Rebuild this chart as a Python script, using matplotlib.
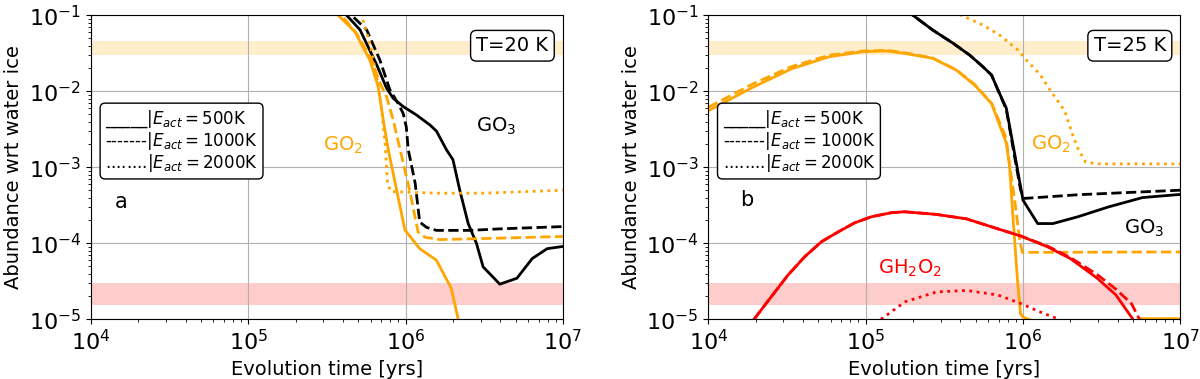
import matplotlib
matplotlib.use("Agg")
import matplotlib.pyplot as plt

# ---- panel a, T=20 K ----
a_go3_500_t = [3.8e5, 4.22e5, 5.13e5, 6.55e5, 7.57e5, 8.34e5, 9.66e5, 1.17e6, 1.43e6, 1.57e6, 1.82e6,
               2.0e6, 2.21e6, 2.5e6, 2.82e6, 3.11e6, 3.97e6, 5.1e6, 6.38e6, 7.94e6, 1e7]
a_go3_500 = [0.126, 0.1, 6.46e-2, 2.24e-2, 1.10e-2, 8.1e-3, 6.3e-3, 4.9e-3, 3.6e-3, 3.0e-3, 1.7e-3,
             1.26e-3, 5.0e-4, 1.82e-4, 1.0e-4, 4.9e-5, 2.9e-5, 3.47e-5, 6.3e-5, 8.5e-5, 9.1e-5]

a_go3_1000_t = [3.98e5, 4.54e5, 5.65e5, 6.87e5, 7.94e5, 8.97e5, 9.66e5, 1.01e6, 1.04e6, 1.15e6, 1.23e6,
                1.36e6, 1.57e6, 2.57e6, 3.98e6, 1e7]
a_go3_1000 = [0.126, 0.1, 6.46e-2, 2.57e-2, 1.05e-2, 6.9e-3, 5.1e-3, 3.4e-3, 1.7e-3, 6.2e-4, 1.9e-4,
              1.62e-4, 1.48e-4, 1.48e-4, 1.55e-4, 1.66e-4]

a_go2_500_t = [3.31e5, 3.73e5, 4.76e5, 5.93e5, 6.7e5, 7.21e5, 7.76e5, 9.9e5, 1.23e6, 1.57e6, 1.95e6, 2.16e6, 2.3e6]
a_go2_500 = [0.126, 0.1, 6.1e-2, 2.57e-2, 1.15e-2, 4.2e-3, 1.7e-3, 1.5e-4, 8.5e-5, 6.0e-5, 2.57e-5, 1.0e-5, 5e-6]

a_go2_1000_t = [3.47e5, 3.92e5, 4.89e5, 6.08e5, 6.87e5, 7.57e5, 8.34e5, 9.12e5, 1.06e6, 1.2e6, 1.33e6,
                1.65e6, 3.98e6, 1e7]
a_go2_1000 = [0.126, 0.1, 5.75e-2, 2.57e-2, 1.29e-2, 8.5e-3, 4.2e-3, 1.9e-3, 5.0e-4, 1.41e-4, 1.2e-4,
              1.12e-4, 1.17e-4, 1.23e-4]

a_go2_2000_t = [4.79e5, 5.25e5, 5.93e5, 6.55e5, 7.05e5, 7.4e5, 7.67e5, 8.04e5, 1.58e6, 3.16e6, 1e7]
a_go2_2000 = [0.126, 0.1, 4.27e-2, 1.55e-2, 5.6e-3, 2.1e-3, 6.3e-4, 4.8e-4, 4.57e-4, 4.57e-4, 5.0e-4]

# ---- panel b, T=25 K ----
b_go3_500_t = [1.78e5, 2.0e5, 2.67e5, 3.59e5, 4.58e5, 5.57e5, 6.31e5, 6.92e5, 7.83e5, 8.85e5, 1.0e6,
               1.24e6, 1.55e6, 2.24e6, 3.47e6, 5.75e6, 1e7]
b_go3_500 = [0.117, 0.1, 6.4e-2, 4.3e-2, 3.0e-2, 2.1e-2, 1.64e-2, 1.05e-2, 6.0e-3, 1.51e-3, 3.7e-4,
             1.82e-4, 1.82e-4, 2.24e-4, 3.0e-4, 4.0e-4, 4.4e-4]

b_go3_1000_t = [1.78e5, 2.0e5, 2.67e5, 3.59e5, 4.58e5, 5.57e5, 6.31e5, 6.92e5, 7.83e5, 8.91e5, 9.66e5,
                1.02e6, 2.29e6, 1e7]
b_go3_1000 = [0.117, 0.1, 6.4e-2, 4.3e-2, 3.0e-2, 2.1e-2, 1.64e-2, 1.05e-2, 5.8e-3, 1.26e-3, 5.0e-4,
              3.9e-4, 4.37e-4, 5.0e-4]

b_go2_500_t = [1e4, 1.9e4, 3.34e4, 5.85e4, 9.68e4, 1.36e5, 1.8e5, 2.67e5, 3.77e5, 4.93e5, 6.31e5, 7.83e5,
               8.22e5, 8.57e5, 8.85e5, 9.23e5, 9.64e5, 9.93e5, 1.08e6, 1.2e6, 5.2e6, 5.6e6, 1e7]
b_go2_500 = [5.56e-3, 1.12e-2, 1.96e-2, 2.85e-2, 3.33e-2, 3.4e-2, 3.14e-2, 2.72e-2, 1.9e-2, 1.21e-2, 6.9e-3,
             2.1e-3, 1.02e-3, 2.75e-4, 1.1e-4, 3.2e-5, 1.2e-5, 1.08e-5, 1.0e-5, 9.5e-6, 9.5e-6, 1.02e-5, 1.02e-5]

b_go2_1000_t = [1e4, 1.9e4, 3.34e4, 5.85e4, 9.68e4, 1.36e5, 1.8e5, 2.67e5, 3.77e5, 4.93e5, 6.31e5, 7.83e5,
                8.04e5, 8.85e5, 9.53e5, 9.9e5, 1e7]
b_go2_1000 = [6.17e-3, 1.24e-2, 2.1e-2, 2.99e-2, 3.4e-2, 3.47e-2, 3.2e-2, 2.75e-2, 1.92e-2, 1.23e-2, 7.0e-3,
              2.4e-3, 1.51e-3, 3.7e-4, 1.1e-4, 7.6e-5, 7.7e-5]

b_go2_2000_t = [3.63e5, 4.06e5, 5.57e5, 7.11e5, 9.29e5, 1.05e6, 1.28e6, 1.48e6, 1.84e6, 2.06e6, 2.24e6,
                2.5e6, 2.96e6, 1e7]
b_go2_2000 = [0.117, 0.1, 7.45e-2, 5.5e-2, 3.49e-2, 2.58e-2, 1.68e-2, 1.05e-2, 5.56e-3, 2.75e-3, 1.75e-3,
              1.17e-3, 1.11e-3, 1.11e-3]

b_h2o2_500_t = [1.95e4, 2.52e4, 3.21e4, 4.1e4, 5.24e4, 6.67e4, 8.51e4, 1.09e5, 1.46e5, 1.77e5, 2.82e5,
                4.37e5, 6.92e5, 9.55e5, 1.43e6, 2.0e6, 2.95e6, 3.89e6, 5.0e6, 5.25e6]
b_h2o2_500 = [1.0e-5, 2.0e-5, 3.83e-5, 6.67e-5, 1.05e-4, 1.41e-4, 1.86e-4, 2.24e-4, 2.53e-4, 2.6e-4, 2.4e-4,
              2.1e-4, 1.55e-4, 1.26e-4, 9.0e-5, 6.3e-5, 3.5e-5, 2.1e-5, 1.0e-5, 8e-6]

b_h2o2_1000_t = [1.95e4, 2.52e4, 3.21e4, 4.1e4, 5.24e4, 6.67e4, 8.51e4, 1.09e5, 1.46e5, 1.77e5, 2.82e5,
                 4.37e5, 6.92e5, 9.55e5, 1.43e6, 2.0e6, 2.95e6, 3.89e6, 4.9e6, 5.5e6, 5.8e6]
b_h2o2_1000 = [1.0e-5, 2.0e-5, 3.83e-5, 6.67e-5, 1.05e-4, 1.41e-4, 1.86e-4, 2.24e-4, 2.53e-4, 2.6e-4, 2.4e-4,
               2.1e-4, 1.55e-4, 1.26e-4, 9.2e-5, 6.5e-5, 3.9e-5, 2.5e-5, 1.6e-5, 1.0e-5, 8e-6]

b_h2o2_2000_t = [1.25e5, 1.78e5, 2.82e5, 4.37e5, 6.92e5, 9.66e5, 1.27e6, 1.7e6]
b_h2o2_2000 = [1.0e-5, 1.7e-5, 2.29e-5, 2.4e-5, 2.09e-5, 1.62e-5, 1.26e-5, 1.0e-5]

# observed ranges (shaded bands)
band_go2 = [3.0e-2, 4.6e-2]
band_h2o2 = [1.55e-5, 3.05e-5]

legend_txt = "_____|$E_{act}=500$K\n-------|$E_{act}=1000$K\n........|$E_{act}=2000$K"


def setup_axes(ax, label, temp):
    ax.set_xscale('log')
    ax.set_yscale('log')
    ax.set_xlim(1e4, 1e7)
    ax.set_ylim(1e-5, 1e-1)
    ax.grid(True)
    ax.axhspan(band_go2[0], band_go2[1], color='orange', alpha=0.2, lw=0)
    ax.axhspan(band_h2o2[0], band_h2o2[1], color='red', alpha=0.2, lw=0)
    ax.tick_params(labelsize=16)
    ax.set_xlabel('Evolution time [yrs]', fontsize=14)
    ax.set_ylabel('Abundance wrt water ice', fontsize=14)
    ax.text(0.893, 0.90, temp, transform=ax.transAxes, fontsize=14, ha='center', va='center',
            bbox=dict(boxstyle='round,pad=0.3', fc='white', ec='black'))
    ax.text(0.03, 0.586, legend_txt, transform=ax.transAxes, fontsize=12, ha='left', va='center',
            linespacing=1.0, bbox=dict(boxstyle='round,pad=0.3', fc='white', ec='black'))


fig = plt.figure(figsize=(12, 3.79), dpi=100)
ax1 = fig.add_axes([0.0758, 0.1575, 0.3933, 0.802])
ax2 = fig.add_axes([0.5903, 0.1575, 0.3933, 0.802])

lw = 2
setup_axes(ax1, 'a', 'T=20 K')
ax1.plot(a_go3_500_t, a_go3_500, 'k-', lw=lw)
ax1.plot(a_go3_1000_t, a_go3_1000, 'k--', lw=lw)
ax1.plot(a_go2_500_t, a_go2_500, '-', color='orange', lw=lw)
ax1.plot(a_go2_1000_t, a_go2_1000, '--', color='orange', lw=lw)
ax1.plot(a_go2_2000_t, a_go2_2000, ':', color='orange', lw=lw)
ax1.text(0.858, 0.634, 'GO$_3$', transform=ax1.transAxes, fontsize=14, ha='center', va='center')
ax1.text(0.534, 0.572, 'GO$_2$', transform=ax1.transAxes, fontsize=14, ha='center', va='center', color='orange')
ax1.text(0.063, 0.386, 'a', transform=ax1.transAxes, fontsize=15, ha='center', va='center')

setup_axes(ax2, 'b', 'T=25 K')
ax2.plot(b_go3_500_t, b_go3_500, 'k-', lw=lw)
ax2.plot(b_go3_1000_t, b_go3_1000, 'k--', lw=lw)
ax2.plot(b_go2_500_t, b_go2_500, '-', color='orange', lw=lw)
ax2.plot(b_go2_1000_t, b_go2_1000, '--', color='orange', lw=lw)
ax2.plot(b_go2_2000_t, b_go2_2000, ':', color='orange', lw=lw)
ax2.plot(b_h2o2_500_t, b_h2o2_500, '-', color='red', lw=lw)
ax2.plot(b_h2o2_1000_t, b_h2o2_1000, '--', color='red', lw=lw)
ax2.plot(b_h2o2_2000_t, b_h2o2_2000, ':', color='red', lw=lw)
ax2.text(0.726, 0.575, 'GO$_2$', transform=ax2.transAxes, fontsize=14, ha='center', va='center', color='orange')
ax2.text(0.923, 0.30, 'GO$_3$', transform=ax2.transAxes, fontsize=14, ha='center', va='center')
ax2.text(0.428, 0.169, 'GH$_2$O$_2$', transform=ax2.transAxes, fontsize=14, ha='center', va='center', color='red')
ax2.text(0.081, 0.393, 'b', transform=ax2.transAxes, fontsize=15, ha='center', va='center')

fig.savefig('out.png', dpi=100)
